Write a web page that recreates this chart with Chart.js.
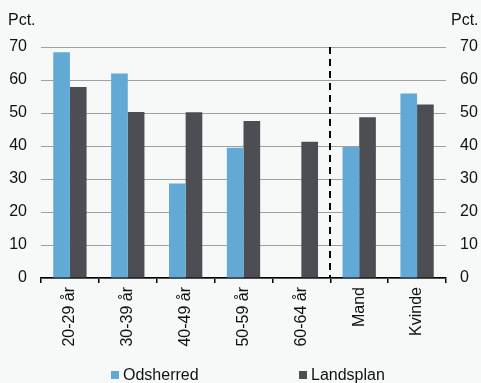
<!DOCTYPE html>
<html>
<head>
<meta charset="utf-8">
<script src="https://cdn.jsdelivr.net/npm/chart.js@4/dist/chart.umd.min.js"></script>
<style>
html,body{margin:0;padding:0;background:#f7f9f9;}
#wrap{width:481px;height:383px;position:relative;}
</style>
</head>
<body>
<div id="wrap"><canvas id="c" width="481" height="383"></canvas></div>
<script>
const categories = ["20-29 år","30-39 år","40-49 år","50-59 år","60-64 år","Mand","Kvinde"];
const odsherred = [68.4, 62.0, 28.6, 39.5, null, 39.7, 55.9];
const landsplan = [57.9, 50.3, 50.2, 47.6, 41.3, 48.7, 52.6];
const yTicks = [0,10,20,30,40,50,60,70];
const axisTitle = "Pct.";

const fontFamily = "'Liberation Sans', Arial, sans-serif";
const font = {family: fontFamily, size: 16};

const extras = {
  id: 'extras',
  afterDatasetsDraw(chart) {
    const ctx = chart.ctx, x = chart.scales.x, a = chart.chartArea;
    const xd = (x.getPixelForValue(4) + x.getPixelForValue(5)) / 2;
    ctx.save();
    ctx.strokeStyle = '#000';
    ctx.lineWidth = 2;
    ctx.setLineDash([7, 5]);
    ctx.beginPath();
    ctx.moveTo(Math.round(xd), a.top);
    ctx.lineTo(Math.round(xd), a.bottom);
    ctx.stroke();
    ctx.restore();
  },
  afterDraw(chart) {
    const ctx = chart.ctx;
    ctx.save();
    ctx.fillStyle = '#111';
    ctx.font = "16px " + fontFamily;
    ctx.textBaseline = 'middle';
    ctx.textAlign = 'left';
    ctx.fillText(axisTitle, 8, 21);
    ctx.fillText(axisTitle, 451, 21);
    // legend
    const xs = [111, 299];
    const ly = 375;
    chart.data.datasets.forEach((ds, i) => {
      ctx.fillStyle = ds.backgroundColor;
      ctx.fillRect(xs[i], ly - 4, 8, 8);
      ctx.fillStyle = '#111';
      ctx.fillText(ds.label, xs[i] + 12, ly + 1);
    });
    ctx.restore();
  }
};

new Chart(document.getElementById('c'), {
  type: 'bar',
  data: {
    labels: categories,
    datasets: [
      {label: 'Odsherred', data: odsherred, backgroundColor: '#63a9d5', yAxisID: 'y'},
      {label: 'Landsplan', data: landsplan, backgroundColor: '#4d4e53', yAxisID: 'y'}
    ]
  },
  options: {
    responsive: false,
    animation: false,
    layout: {padding: {top: 47, left: 0, right: 0, bottom: 25}},
    datasets: {bar: {categoryPercentage: 0.576, barPercentage: 1.0}},
    plugins: {
      legend: {display: false},
      tooltip: {enabled: false}
    },
    scales: {
      x: {
        grid: {display: true, drawOnChartArea: false, drawTicks: true, tickLength: 5, color: '#000', lineWidth: 1.5, offset: true},
        border: {display: true, color: '#000', width: 1.5},
        ticks: {color: '#111', font: font, minRotation: 90, maxRotation: 90, padding: 4, autoSkip: false},
        afterFit(s) { s.height = 80; }
      },
      y: {
        position: 'left',
        min: 0, max: 70,
        afterBuildTicks(s) { s.ticks = yTicks.map(v => ({value: v})); },
        ticks: {color: '#111', font: font, padding: 14, autoSkip: false},
        grid: {color: '#a0a0a0', lineWidth: 1, drawTicks: false},
        border: {display: false},
        afterFit(s) { s.width = 41; }
      },
      y2: {
        position: 'right',
        min: 0, max: 70,
        afterBuildTicks(s) { s.ticks = yTicks.map(v => ({value: v})); },
        ticks: {color: '#111', font: font, padding: 14, autoSkip: false},
        grid: {display: false, drawTicks: false},
        border: {display: false},
        afterFit(s) { s.width = 35; }
      }
    }
  },
  plugins: [extras]
});
</script>
</body>
</html>
